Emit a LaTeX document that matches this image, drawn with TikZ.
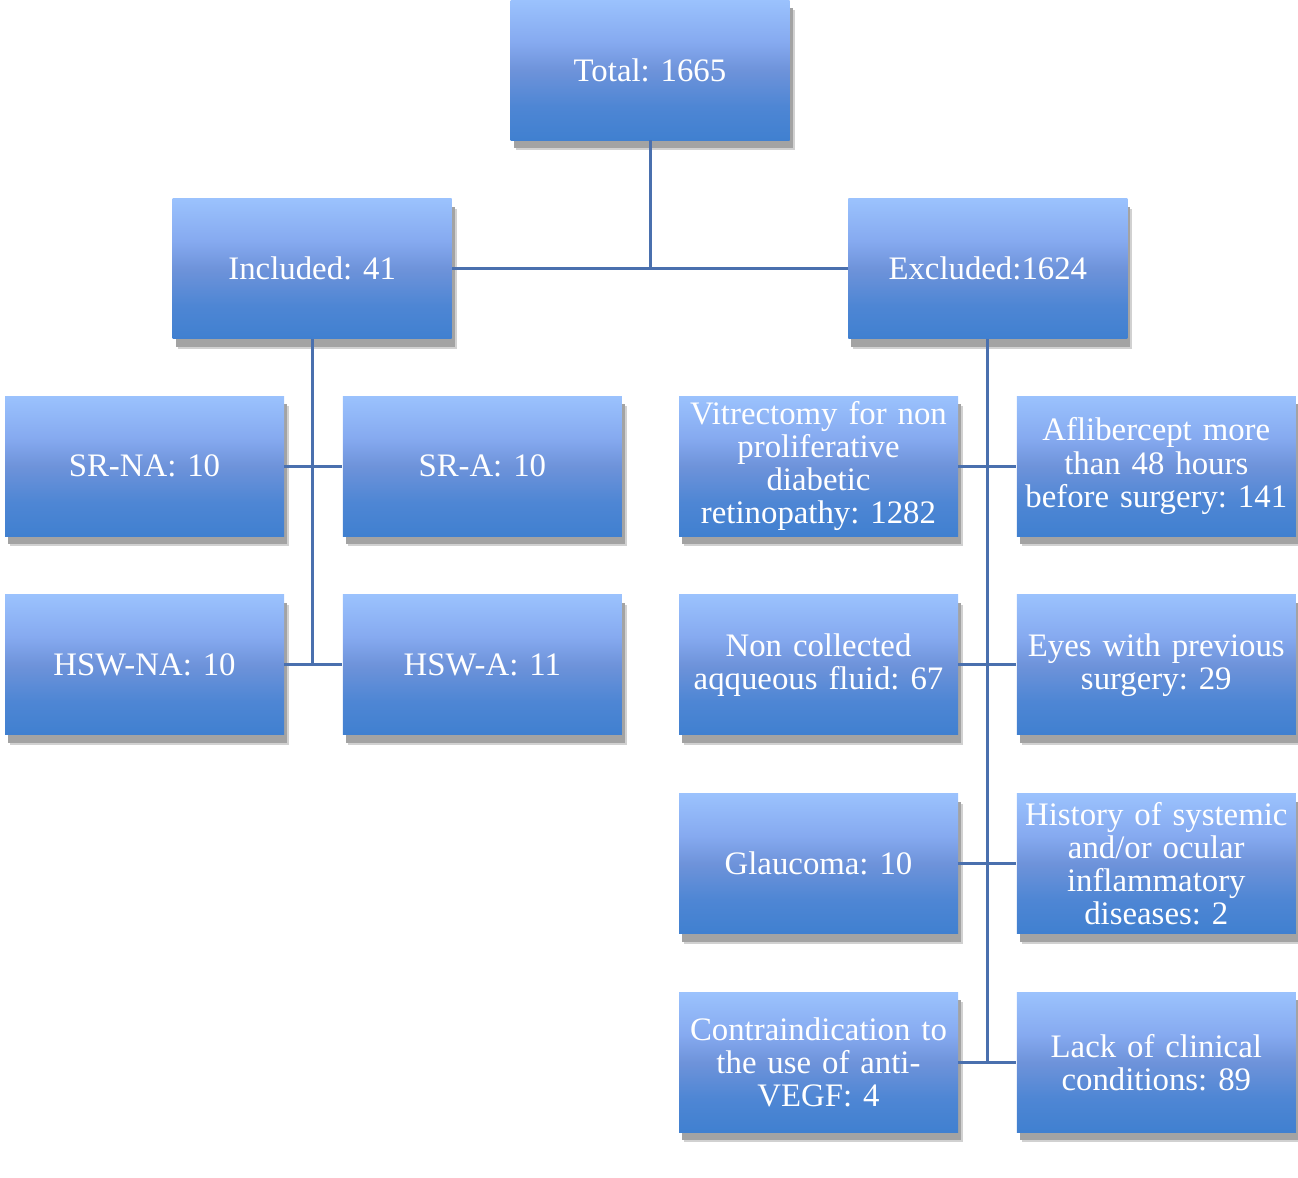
\documentclass[tikz,border=0pt]{standalone}
\usepackage{fontspec}
\setmainfont{Liberation Serif}
\usetikzlibrary{positioning,shadows}
\frenchspacing
\definecolor{linkblue}{HTML}{4A70AE}
\definecolor{shTop}{HTML}{9BC2FD}
\definecolor{shUp}{HTML}{86AAF0}
\definecolor{shMid}{HTML}{6E93DA}
\definecolor{shLow}{HTML}{4E86D4}
\definecolor{shBot}{HTML}{4080D0}
\pgfdeclareverticalshading{boxfill}{100bp}{color(0bp)=(shBot); color(25bp)=(shBot);
  color(37bp)=(shLow); color(50bp)=(shMid); color(60bp)=(shUp); color(75bp)=(shTop); color(100bp)=(shTop)}
\tikzset{
  box/.style ={shade,shading=boxfill,minimum width=139.5pt,minimum height=70pt,
               inner sep=0pt,text width=138pt,align=center,text=white,
               font=\fontsize{16.4}{16.6}\selectfont,
               drop shadow={shadow xshift=2.5pt,shadow yshift=-5pt,fill=black!18,opacity=1},
               drop shadow={shadow xshift=1.5pt,shadow yshift=-4pt,fill=black!36,opacity=1}},
  link/.style={draw=linkblue,line width=1.5pt},
}

\begin{document}
\begin{tikzpicture}[x=1pt,y=1pt,node distance=29pt and 29pt]
\useasboundingbox (0,0) rectangle (649,-589);
% top
\node[box] (T) at (325,-35) {Total: 1665};
\node[box,below left=29pt and 29pt of T] (INC) {Included: 41};
\node[box,below right=29pt and 29pt of T] (EXC) {Excluded:1624};
% included groups
\node[box] (SRNA) at (72.25,-233) {SR-NA: 10};
\node[box,right=of SRNA] (SRA) {SR-A: 10};
\node[box,below=of SRNA] (HNA) {HSW-NA: 10};
\node[box,right=of HNA] (HA) {HSW-A: 11};
% exclusion reasons
\node[box] (VIT) at (409.25,-233) {Vitrectomy for non\\ proliferative\\ diabetic\\ retinopathy: 1282};
\node[box,right=of VIT] (AFL) {Aflibercept more\\ than 48 hours\\ before surgery: 141};
\node[box,below=of VIT] (NCA) {Non collected\\ aqqueous fluid: 67};
\node[box,right=of NCA] (EYE) {Eyes with previous\\ surgery: 29};
\node[box,below=of NCA] (GLA) {Glaucoma: 10};
\node[box,right=of GLA] (HIS) {History of systemic\\ and/or ocular\\ inflammatory\\ diseases: 2};
\node[box,below=of GLA] (CON) {Contraindication to\\ the use of anti-\\ VEGF: 4};
\node[box,right=of CON] (LCC) {Lack of clinical\\ conditions: 89};
% edges
\draw[link] (T) -- (T |- INC);
\draw[link] (INC) -- (EXC);
\draw[link] (INC) -- (INC |- HNA);
\draw[link] (SRNA) -- (SRA);
\draw[link] (HNA) -- (HA);
\draw[link] (EXC) -- (EXC |- CON);
\draw[link] (VIT) -- (AFL);
\draw[link] (NCA) -- (EYE);
\draw[link] (GLA) -- (HIS);
\draw[link] (CON) -- (LCC);
\end{tikzpicture}
\end{document}
